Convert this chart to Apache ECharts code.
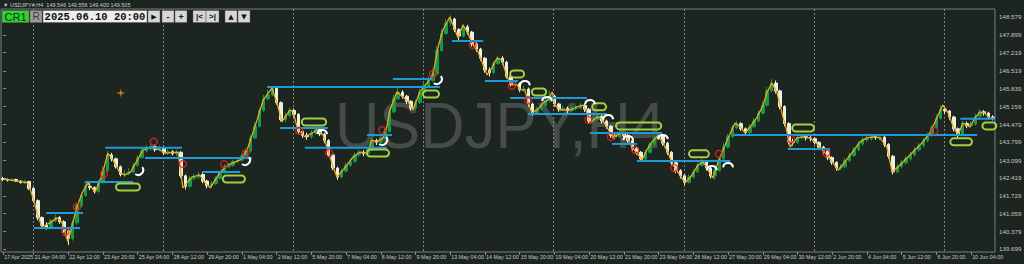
<!DOCTYPE html>
<html><head><meta charset="utf-8">
<script src="https://cdn.jsdelivr.net/npm/echarts@6/dist/echarts.min.js"></script>
<style>html,body{margin:0;padding:0;background:#1d2520;}#c{width:1024px;height:264px;}</style>
</head><body><div id="c"></div>
<script>
// ---------- data ----------
const xLabels = ["17 Apr 2025","21 Apr 04:00","22 Apr 12:00","23 Apr 20:00","25 Apr 04:00","28 Apr 12:00","29 Apr 20:00","1 May 04:00","2 May 12:00","5 May 20:00","7 May 04:00","8 May 12:00","9 May 20:00","13 May 04:00","14 May 12:00","15 May 20:00","19 May 04:00","20 May 12:00","21 May 20:00","23 May 04:00","26 May 12:00","27 May 20:00","29 May 04:00","30 May 12:00","2 Jun 20:00","4 Jun 04:00","5 Jun 12:00","6 Jun 20:00","10 Jun 04:00"];
const yTicks = [148.579,147.899,147.219,146.519,145.839,145.159,144.479,143.799,143.099,142.419,141.729,141.059,140.379,139.699];
// [open, close, low, high]
const candles = [
[142.40,142.36,142.30,142.46],[142.36,142.33,142.28,142.40],[142.33,142.36,142.29,142.41],[142.36,142.30,142.26,142.39],[142.30,142.24,142.20,142.33],
[142.24,142.28,142.18,142.34],[142.28,142.02,141.96,142.31],[142.02,141.55,141.48,142.06],[141.55,140.90,140.80,141.60],[140.90,140.60,140.48,140.95],
[140.60,140.52,140.44,140.72],[140.52,140.78,140.47,140.85],[140.78,140.90,140.70,141.02],[140.90,140.74,140.66,140.96],[140.74,140.40,140.32,140.80],
[140.40,140.10,139.85,140.45],[140.10,140.70,140.02,140.80],[140.70,141.35,140.62,141.45],[141.35,141.75,141.28,141.85],[141.75,142.10,141.70,142.25],
[142.10,142.05,141.95,142.22],[142.05,141.90,141.82,142.10],[141.90,142.25,141.85,142.35],[142.25,142.70,142.20,142.85],[142.70,143.30,142.65,143.45],
[143.30,143.15,143.05,143.38],[143.15,142.85,142.78,143.20],[142.85,142.55,142.48,142.90],[142.55,142.60,142.45,142.72],[142.60,142.65,142.52,142.78],
[142.65,142.90,142.60,143.00],[142.90,143.20,142.85,143.28],[143.20,143.45,143.15,143.55],[143.45,143.55,143.40,143.68],[143.55,143.62,143.45,143.75],
[143.62,143.50,143.42,143.70],[143.50,143.55,143.44,143.66],[143.55,143.38,143.30,143.60],[143.38,143.42,143.30,143.52],[143.42,143.35,143.28,143.48],
[143.35,143.40,143.25,143.50],[143.40,142.50,142.42,143.45],[142.50,142.10,141.98,142.55],[142.10,142.40,142.05,142.50],[142.40,142.45,142.32,142.58],
[142.45,142.55,142.38,142.65],[142.55,142.30,142.22,142.60],[142.30,142.12,142.02,142.35],[142.12,142.20,142.05,142.30],[142.20,142.40,142.15,142.48],
[142.40,142.62,142.35,142.70],[142.62,142.85,142.58,142.95],[142.85,142.90,142.78,143.00],[142.90,143.05,142.85,143.12],[143.05,143.10,142.98,143.20],
[143.10,143.25,143.05,143.35],[143.25,143.45,143.20,143.55],[143.45,143.95,143.40,144.05],[143.95,144.40,143.90,144.55],[144.40,145.00,144.35,145.10],
[145.00,145.45,144.95,145.60],[145.45,145.60,145.38,145.80],[145.60,145.85,145.55,145.95],[145.85,145.30,145.22,145.90],[145.30,144.65,144.58,145.35],
[144.65,144.80,144.55,144.92],[144.80,145.00,144.75,145.12],[145.00,144.85,144.75,145.08],[144.85,144.20,144.12,144.90],[144.20,144.05,143.95,144.28],
[144.05,144.00,143.88,144.15],[144.00,144.15,143.92,144.25],[144.15,144.30,144.08,144.40],[144.30,144.10,144.02,144.35],[144.10,143.85,143.75,144.15],
[143.85,143.30,143.22,143.90],[143.30,142.80,142.72,143.35],[142.80,142.45,142.35,142.85],[142.45,142.68,142.40,142.78],[142.68,142.90,142.62,143.00],
[142.90,143.05,142.85,143.15],[143.05,143.30,143.00,143.40],[143.30,143.40,143.22,143.50],[143.40,143.35,143.25,143.48],[143.35,143.50,143.30,143.62],
[143.50,143.85,143.45,143.95],[143.85,143.78,143.68,143.92],[143.78,143.95,143.72,144.05],[143.95,144.20,143.90,144.35],[144.20,144.95,144.15,145.05],
[144.95,145.45,144.90,145.60],[145.45,145.70,145.40,145.85],[145.70,145.55,145.45,145.78],[145.55,145.35,145.25,145.60],[145.35,145.10,145.00,145.40],
[145.10,145.30,145.02,145.42],[145.30,145.70,145.25,145.82],[145.70,145.95,145.65,146.10],[145.95,146.15,145.90,146.30],[146.15,146.40,146.10,146.60],
[146.40,147.30,146.35,147.45],[147.30,147.95,147.25,148.10],[147.95,148.35,147.90,148.50],[148.35,148.50,148.25,148.65],[148.50,148.10,148.00,148.55],
[148.10,147.85,147.70,148.15],[147.85,148.20,147.80,148.30],[148.20,148.00,147.90,148.28],[148.00,147.55,147.45,148.05],[147.55,147.35,147.25,147.62],
[147.35,147.00,146.90,147.40],[147.00,146.55,146.45,147.05],[146.55,146.45,146.30,146.65],[146.45,146.80,146.40,146.90],[146.80,147.00,146.75,147.10],
[147.00,146.85,146.75,147.08],[146.85,146.30,146.22,146.90],[146.30,146.00,145.92,146.38],[146.00,146.02,145.90,146.15],[146.02,145.80,145.70,146.08],
[145.80,145.82,145.72,145.95],[145.82,145.25,145.15,145.88],[145.25,144.90,144.80,145.30],[144.90,145.05,144.85,145.15],[145.05,145.20,145.00,145.30],
[145.20,145.38,145.12,145.48],[145.38,145.55,145.30,145.75],[145.55,145.25,145.15,145.60],[145.25,145.05,144.95,145.30],[145.05,145.08,144.98,145.18],
[145.08,145.00,144.90,145.15],[145.00,145.08,144.92,145.18],[145.08,145.10,145.00,145.22],[145.10,145.20,145.05,145.30],[145.20,145.05,144.95,145.25],
[145.05,144.60,144.50,145.10],[144.60,144.65,144.52,144.78],[144.65,144.78,144.60,144.88],[144.78,144.60,144.50,144.82],[144.60,144.40,144.30,144.65],
[144.40,144.05,143.95,144.45],[144.05,144.00,143.90,144.12],[144.00,144.12,143.95,144.22],[144.12,144.05,143.95,144.18],[144.05,143.85,143.75,144.10],
[143.85,143.55,143.45,143.90],[143.55,143.40,143.30,143.60],[143.40,143.15,143.05,143.45],[143.15,143.40,143.10,143.50],[143.40,143.70,143.35,143.80],
[143.70,143.90,143.65,144.05],[143.90,144.05,143.85,144.15],[144.05,143.75,143.65,144.10],[143.75,143.40,143.30,143.80],[143.40,143.00,142.90,143.45],
[143.00,142.70,142.60,143.05],[142.70,142.50,142.40,142.75],[142.50,142.25,142.15,142.55],[142.25,142.45,142.20,142.55],[142.45,142.65,142.40,142.75],
[142.65,142.90,142.60,143.00],[142.90,143.05,142.85,143.15],[143.05,142.80,142.70,143.10],[142.80,142.50,142.40,142.85],[142.50,142.70,142.35,142.80],
[142.70,143.15,142.65,143.25],[143.15,143.60,143.10,143.75],[143.60,144.00,143.55,144.10],[144.00,144.35,143.95,144.45],[144.35,144.50,144.28,144.60],
[144.50,144.30,144.22,144.55],[144.30,144.15,144.05,144.35],[144.15,144.38,144.10,144.48],[144.38,144.60,144.32,144.70],[144.60,144.90,144.55,145.00],
[144.90,145.20,144.85,145.35],[145.20,145.75,145.15,145.90],[145.75,146.05,145.70,146.20],[146.05,145.75,145.65,146.15],[145.75,145.15,145.05,145.80],
[145.15,144.50,144.40,145.20],[144.50,143.80,143.70,144.55],[143.80,143.78,143.65,143.92],[143.78,143.98,143.72,144.08],[143.98,144.00,143.88,144.12],
[144.00,143.95,143.85,144.08],[143.95,143.92,143.82,144.05],[143.92,143.78,143.70,143.98],[143.78,143.60,143.50,143.82],[143.60,143.45,143.35,143.65],
[143.45,143.20,143.10,143.50],[143.20,143.02,142.92,143.25],[143.02,142.80,142.70,143.05],[142.80,142.85,142.72,142.95],[142.85,143.08,142.80,143.18],
[143.08,143.28,143.02,143.38],[143.28,143.50,143.22,143.60],[143.50,143.72,143.45,143.82],[143.72,143.88,143.65,143.98],[143.88,143.92,143.80,144.05],
[143.92,144.00,143.85,144.12],[144.00,143.96,143.88,144.08],[143.96,143.98,143.85,144.10],[143.98,143.70,143.60,144.02],[143.70,143.25,143.15,143.75],
[143.25,142.65,142.55,143.30],[142.65,142.85,142.60,142.95],[142.85,143.00,142.78,143.10],[143.00,143.15,142.92,143.25],[143.15,143.30,143.08,143.42],
[143.30,143.50,143.25,143.60],[143.50,143.65,143.42,143.75],[143.65,143.85,143.58,143.95],[143.85,144.05,143.78,144.15],[144.05,144.35,144.00,144.45],
[144.35,144.70,144.30,144.85],[144.70,145.05,144.65,145.20],[145.05,144.98,144.88,145.15],[144.98,144.75,144.65,145.02],[144.75,144.30,144.20,144.80],
[144.30,144.05,143.95,144.35],[144.05,144.50,144.00,144.60],[144.50,144.42,144.32,144.58],[144.42,144.48,144.35,144.58],[144.48,144.78,144.42,144.88],
[144.78,144.95,144.72,145.05],[144.95,144.90,144.80,145.02],[144.90,144.75,144.65,144.95],[144.75,144.72,144.62,144.82]
];
// orange swing line: [bar, price]
const zigzag = [
[0,142.38],[4.6,142.26],[5.7,142.23],[6.9,141.65],[7.8,141.08],[8.9,140.54],[10.8,140.70],[12.4,140.89],[13.5,140.73],[14.9,139.97],
[17.0,141.31],[18.2,141.84],[19.5,142.23],[21.2,141.88],[22.8,142.53],[24.1,143.37],[25.3,143.11],[26.9,142.61],[28.1,142.53],[29.4,142.65],
[32.2,143.49],[34.3,143.60],[36.1,143.49],[37.3,143.37],[40.3,143.41],[41.4,142.04],[43.5,142.46],[45.3,142.53],[46.5,142.23],[47.7,142.04],
[50.0,142.65],[51.8,142.92],[54.6,143.11],[56.2,143.49],[58.5,144.64],[59.9,145.40],[61.9,145.86],[63.1,145.29],[64.2,144.56],[66.1,145.02],
[66.8,144.94],[67.9,144.26],[69.5,143.99],[71.2,144.14],[72.3,144.26],[73.7,144.06],[74.8,143.49],[76.0,142.84],[76.9,142.46],[78.3,142.72],
[80.6,143.22],[82.2,143.41],[83.8,143.37],[85.0,143.87],[86.1,143.80],[87.5,143.95],[88.4,144.37],[89.1,145.02],[90.7,145.71],[92.1,145.52],
[93.3,145.33],[94.4,145.02],[96.0,145.71],[97.6,146.05],[99.0,146.36],[100.2,147.43],[101.3,148.08],[102.9,148.58],[104.1,148.08],[104.8,147.78],
[105.9,148.27],[107.1,147.97],[108.0,147.58],[109.4,147.24],[111.5,146.36],[112.6,146.63],[113.8,147.01],[114.9,146.93],[116.1,146.28],[117.2,145.98],
[118.4,145.98],[119.1,145.79],[120.2,145.79],[120.9,145.33],[121.8,144.91],[123.0,145.02],[124.4,145.29],[125.5,145.40],[126.5,145.71],[127.1,145.21],
[128.3,145.02],[130.6,145.02],[132.2,145.14],[133.6,145.21],[134.5,144.91],[135.2,144.52],[136.8,144.75],[137.5,144.75],[139.1,144.37],[140.5,143.95],
[141.4,144.06],[142.6,144.14],[143.7,143.95],[144.9,143.60],[146.0,143.37],[147.2,143.11],[148.3,143.49],[149.5,143.80],[150.9,144.06],[152.0,143.76],
[153.2,143.37],[154.3,142.92],[155.9,142.53],[157.1,142.23],[158.7,142.53],[160.1,142.92],[161.3,143.03],[162.4,142.72],[163.5,142.42],[164.5,142.92],
[165.2,143.22],[166.8,143.87],[168.6,144.52],[169.8,144.37],[170.9,144.14],[172.1,144.37],[173.7,144.75],[175.1,145.21],[176.0,145.71],[177.1,146.05],
[178.3,145.67],[179.4,144.91],[180.6,144.17],[181.3,143.60],[182.9,143.95],[184.3,143.99],[185.9,143.95],[187.8,143.68],[189.4,143.37],[191.0,143.03],
[192.4,142.72],[193.9,143.03],[195.5,143.37],[197.4,143.80],[199.0,143.95],[200.4,143.99],[202.0,143.95],[203.6,143.60],[204.8,142.65],[205.9,142.80],
[207.3,143.03],[209.6,143.41],[211.9,143.80],[213.6,144.18],[215.2,144.75],[216.5,145.21],[217.7,144.91],[218.9,144.37],[220.0,144.06],[221.1,144.52],
[222.7,144.37],[223.9,144.72],[225.0,144.94],[226.1,144.91],[227.3,144.72]
];
// horizontal levels: [fromBar, toBar, price]
const levels = [
[7.1,17.7,140.50],[9.9,18.4,141.08],[18.8,29.9,142.26],[23.5,41.2,143.57],[32.7,57.3,143.18],[45.8,54.6,142.65],
[60.8,100.6,145.90],[89.8,98.8,146.21],[63.8,74.8,144.33],[69.5,88.4,143.57],[83.8,89.6,144.06],[103.4,110.6,147.66],
[111.0,118.6,146.13],[116.8,134.5,145.48],[120.9,139.1,144.87],[135.2,151.8,144.14],[140.3,146.0,143.72],[146.0,167.5,143.07],
[168.2,224.4,144.06],[180.8,190.5,143.53],[220.5,228.5,144.68]
];
// green zones: [fromBar, toBar, price]
const zones = [
[26.0,31.5,142.07],[50.6,55.7,142.38],[68.8,74.4,144.56],[83.8,88.9,143.37],[96.7,100.4,145.63],[116.8,120.0,146.40],
[121.8,125.1,145.71],[135.7,138.9,145.14],[141.2,151.6,144.41],[158.0,162.6,143.34],[181.8,186.8,144.33],[218.2,223.2,143.80],[225.6,228.8,144.41]
];
// red signal circles: [bar, price]
const signals = [
[14.3,140.35],[17.0,141.31],[23.2,142.57],[34.7,143.80],[41.4,142.95],[50.9,142.95],[55.9,143.37],[68.2,144.22],[75.1,143.37],[87.3,144.25],
[99.0,146.40],[108.2,147.51],[117.2,145.94],[120.9,145.40],[134.8,144.64],[140.0,143.99],[145.6,143.49],[154.6,142.80],[164.9,143.34],[181.5,143.91],
[189.6,143.37],[214.5,144.22]
];
// white arcs: arches and hooks
const arches = [[73.5,144.18],[120.2,146.05],[125.3,145.44],[135.2,145.33],[139.4,144.75],[144.0,143.95],[152.0,143.99],[163.3,142.80],[167.0,142.91]];
const hooks = [[31.1,142.61],[55.7,142.99],[87.3,143.76],[99.9,146.09]];
const orangeMarks = [[27.1,145.67]];
const weekStarts = [7,37,67,97,127,157,187,217];
const Y_MIN = 139.584, Y_MAX = 148.885;

// ---------- chart ----------
const chart = echarts.init(document.getElementById('c'), null, {renderer:'svg', width:1024, height:264});
const N = candles.length;
const cats = candles.map((_, i) => String(i));
const isLabel = i => i === 0 || (i >= 7 && (i - 7) % 8 === 0);
const FG = '#c4c8c5';

function btn(x, w, fill, label, color, font) {
  return [
    {type:'rect', shape:{x:x, y:10.5, width:w, height:12}, style:{fill:fill, stroke:'#5a5a5a', lineWidth:0.5}, z:100},
    {type:'text', x:x + w/2, y:16.8, style:{text:label, fill:color, font:font, align:'center', verticalAlign:'middle'}, z:101}
  ];
}

const graphics = [
  {type:'text', x:335, y:126, scaleX:0.96, style:{text:'USDJPY,H4', fill:'#464c48', font:'64px "Liberation Sans"', align:'left', verticalAlign:'middle'}, z:-10},
  {type:'text', x:3, y:4.5, style:{text:'\u25BC USDJPY#,H4  149.546 149.556 149.400 149.505', fill:'#c8ccc9', font:'5.5px "Liberation Sans"', align:'left', verticalAlign:'middle'}, z:100},
].concat(
  btn(2, 27, '#2fd22f', 'CR1', '#0b3010', '11px "Liberation Sans"'),
  btn(30, 12, '#9c9c9c', 'R', '#3a3a3a', '10px "Liberation Sans"'),
  btn(43, 104, '#eeeeee', '2025.06.10 20:00', '#111111', 'bold 10.5px "Liberation Mono"'),
  btn(148, 12, '#d6d6d6', '\u25B6', '#111', '7px "DejaVu Sans"'),
  btn(162, 12, '#d6d6d6', '-', '#111', 'bold 9px "Liberation Sans"'),
  btn(175, 12, '#d6d6d6', '+', '#111', 'bold 9px "Liberation Sans"'),
  btn(193, 13, '#d6d6d6', '|<', '#111', 'bold 8px "Liberation Sans"'),
  btn(206, 13, '#d6d6d6', '>|', '#111', 'bold 8px "Liberation Sans"'),
  btn(225, 12, '#d6d6d6', '\u25B2', '#111', '7px "DejaVu Sans"'),
  btn(238, 12, '#d6d6d6', '\u25BC', '#111', '7px "DejaVu Sans"')
);

const option = {
  backgroundColor: '#1d2520',
  animation: false,
  grid: {left:1, right:29, top:9, bottom:12, show:true, borderColor:'#7a7f7b', borderWidth:1, containLabel:false, outerBoundsMode:'none'},
  xAxis: [
    {type:'category', data:cats, boundaryGap:true,
     axisLine:{show:false},
     axisTick:{show:true, interval:(i)=>isLabel(i), alignWithLabel:true, length:3, lineStyle:{color:'#8a8f8b'}},
     axisLabel:{interval:(i)=>isLabel(i), showMinLabel:true, hideOverlap:false, formatter:(v,i)=> i===0 ? xLabels[0] : xLabels[(i-7)/8+1], align:'left', fontSize:5.4, color:FG, margin:2.5, fontFamily:'Liberation Sans', padding:[0,0,0,1]},
     splitLine:{show:false}},
    {type:'value', min:-0.5, max:N-0.5, show:false}
  ],
  yAxis: {type:'value', position:'right', min:Y_MIN, max:Y_MAX, scale:true,
    axisLine:{show:false},
    axisTick:{show:true, customValues:yTicks, length:3, lineStyle:{color:'#8a8f8b'}},
    axisLabel:{customValues:yTicks, formatter:(v)=>v.toFixed(3), fontSize:6.2, color:FG, margin:4, fontFamily:'Liberation Sans'},
    splitLine:{show:false}},
  graphic: graphics,
  series: [
    {type:'custom', xAxisIndex:1, z:1, silent:true, data: weekStarts.map(k => [k, Y_MIN]),
     renderItem:(params, api) => {
       const a = api.coord([api.value(0), Y_MAX]), b = api.coord([api.value(0), Y_MIN]);
       return {type:'line', shape:{x1:Math.round(a[0])-0.5, y1:a[1], x2:Math.round(b[0])-0.5, y2:b[1]}, style:{stroke:'#7f8480', lineWidth:1, lineDash:[2,2]}};
     }},
    {type:'candlestick', data:candles, barWidth:3, z:2,
     itemStyle:{color:'#149a4c', color0:'#eaf0e2', borderColor:'#149a4c', borderColor0:'#eaf0e2', borderWidth:1}},
    {type:'line', xAxisIndex:1, data:zigzag, symbol:'none', z:3, lineStyle:{color:'#f2a81c', width:1.3}},
    {type:'custom', xAxisIndex:1, z:4, data:levels,
     renderItem:(params, api) => {
       const a = api.coord([api.value(0), api.value(2)]), b = api.coord([api.value(1), api.value(2)]);
       return {type:'line', shape:{x1:a[0], y1:a[1], x2:b[0], y2:b[1]}, style:{stroke:'#1f9ad6', lineWidth:2}};
     }},
    {type:'custom', xAxisIndex:1, z:5, data:zones,
     renderItem:(params, api) => {
       const a = api.coord([api.value(0), api.value(2)]), b = api.coord([api.value(1), api.value(2)]);
       return {type:'rect', shape:{x:a[0], y:a[1]-3.5, width:b[0]-a[0], height:7, r:3.5}, style:{fill:'none', stroke:'#a2d040', lineWidth:2}};
     }},
    {type:'scatter', xAxisIndex:1, z:6, data:signals, symbol:'circle', symbolSize:7,
     itemStyle:{color:'rgba(0,0,0,0)', borderColor:'#e02424', borderWidth:1.5}},
    {type:'custom', xAxisIndex:1, z:6, data:arches,
     renderItem:(params, api) => {
       const p = api.coord([api.value(0), api.value(1)]);
       return {type:'arc', shape:{cx:p[0], cy:p[1]+3, r:5, startAngle:Math.PI*1.05, endAngle:Math.PI*1.95, clockwise:true}, style:{fill:'none', stroke:'#ffffff', lineWidth:2}};
     }},
    {type:'custom', xAxisIndex:1, z:6, data:hooks,
     renderItem:(params, api) => {
       const p = api.coord([api.value(0), api.value(1)]);
       return {type:'arc', shape:{cx:p[0], cy:p[1]-3, r:5, startAngle:-Math.PI*0.2, endAngle:Math.PI*0.7, clockwise:true}, style:{fill:'none', stroke:'#ffffff', lineWidth:2}};
     }},
    {type:'scatter', xAxisIndex:1, z:6, data:orangeMarks, symbol:'path://M5,0L6,4L10,5L6,6L5,10L4,6L0,5L4,4Z', symbolSize:9,
     itemStyle:{color:'#e8921a'}}
  ]
};
chart.setOption(option);
</script>
</body></html>
